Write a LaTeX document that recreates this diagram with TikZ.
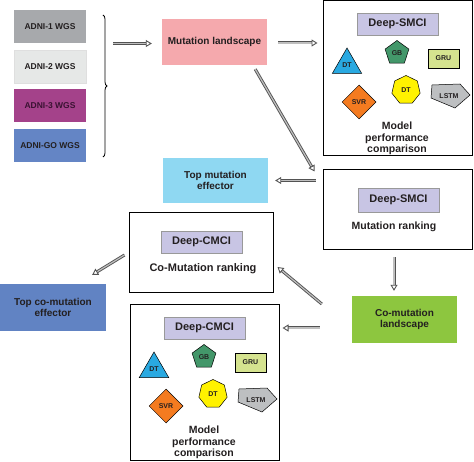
\documentclass[tikz,border=0pt]{standalone}
\usepackage{fontspec}
\setmainfont{Liberation Sans}
\usetikzlibrary{arrows.meta, shapes.geometric, decorations.pathreplacing}

\definecolor{adnione}{HTML}{A7A9AC}
\definecolor{adnitwo}{HTML}{E6E8E7}
\definecolor{adnithree}{HTML}{A4428A}
\definecolor{adnithreetext}{HTML}{3A1232}
\definecolor{adnigo}{HTML}{6485C5}
\definecolor{landcol}{HTML}{F5A9AD}
\definecolor{tagcol}{HTML}{C8C5E4}
\definecolor{tricol}{HTML}{29A9E1}
\definecolor{gbcol}{HTML}{43976A}
\definecolor{grucol}{HTML}{D5E38F}
\definecolor{svrcol}{HTML}{F47B20}
\definecolor{dtcol}{HTML}{FFF200}
\definecolor{lstmcol}{HTML}{BDBFC1}
\definecolor{topmutcol}{HTML}{8FD8F2}
\definecolor{collandcol}{HTML}{8DC63F}
\definecolor{topcocol}{HTML}{6183C3}
\definecolor{ink}{HTML}{231F20}

\tikzset{
  box/.style={draw=black, line width=1pt, minimum width=149pt},
  tag/.style={fill=tagcol, draw=gray!80, minimum width=81pt, minimum height=22pt, text=ink, font=\fontsize{11}{12}\selectfont\bfseries},
  fillbox/.style={minimum width=105pt, minimum height=46pt, align=center, text=ink, font=\fontsize{10}{11.5}\selectfont\bfseries},
  wgs/.style={minimum width=72pt, minimum height=33pt, text=ink, font=\fontsize{8.5}{10}\selectfont\bfseries},
  model/.style={draw=black, line width=0.5pt, inner sep=0pt, text=ink, font=\fontsize{7}{8}\selectfont\bfseries},
  flow/.style={draw=gray!65!black, double=gray!50, double distance=1.2pt, line width=0.9pt, -{Triangle[open, length=6pt, width=7pt]}}
}

\begin{document}
\begin{tikzpicture}[x=1pt, y=-1pt]
\useasboundingbox (0,0) rectangle (474,462);

\node[wgs, fill=adnione] (adni1) at (50,26.5) {ADNI-1 WGS};
\node[wgs, fill=adnitwo, draw=gray!25] (adni2) at (50,66.5) {ADNI-2 WGS};
\node[wgs, fill=adnithree, text=adnithreetext] (adni3) at (50,105.5) {ADNI-3 WGS};
\node[wgs, fill=adnigo] (adnigo) at (50,145.5) {ADNI-GO WGS};
\draw[decorate, decoration={brace, amplitude=4pt}, line width=0.8pt] (103,15) -- (103,157);
\coordinate (bt) at (113,43.5);

\node[fillbox, fill=landcol] (land) at (214.5,42) {Mutation landscape};

\foreach \bx/\dx/\dy/\lab in {s/0/0/Deep-SMCI, c/-193/304/Deep-CMCI}{
  \begin{scope}[shift={(\dx,\dy)}]
    \node[box, minimum height=155pt] (\bx box) at (397.5,78.5) {};
    \node[tag] (\bx tag) at (397.5,24) {\lab};
    \node[model, regular polygon, regular polygon sides=3, minimum size=34pt, fill=tricol] (\bx tri) at (347,65) {DT};
    \node[model, regular polygon, regular polygon sides=5, minimum size=25pt, fill=gbcol] (\bx gb) at (397,53) {GB};
    \node[model, minimum width=31pt, minimum height=19pt, fill=grucol] (\bx gru) at (443.5,58.5) {GRU};
    \node[model, diamond, minimum size=34pt, fill=svrcol] (\bx svr) at (359,102) {SVR};
    \node[model, regular polygon, regular polygon sides=7, minimum size=29pt, fill=dtcol] (\bx dt) at (406,90) {DT};
    \draw[model, fill=lstmcol] (432,85) -- (460,84) -- (470,95) -- (455,108) -- (431,98) -- cycle;
    \node[model, draw=none] (\bx lstm) at (449,96) {LSTM};
    \node[align=center, text=ink, font=\fontsize{10.5}{11.5}\selectfont\bfseries] (\bx mtext) at (397,138.5) {Model\\performance\\comparison};
  \end{scope}
}

\node[box, minimum height=80pt] (rank) at (397.5,210) {};
\node[tag, minimum height=24pt] (ranktag) at (398.5,200) {Deep-SMCI};
\node[text=ink, font=\fontsize{10.5}{12}\selectfont\bfseries] (ranktext) at (394,227) {Mutation ranking};

\node[fillbox, fill=topmutcol, minimum height=45pt] (topmut) at (215.5,180.5) {Top mutation\\effector};
\node[fillbox, fill=collandcol, minimum height=47pt] (colland) at (404.5,319.5) {Co-mutation\\landscape};

\node[box, minimum width=144pt, minimum height=80pt] (corank) at (201,253) {};
\node[tag] (coranktag) at (201.5,242) {Deep-CMCI};
\node[text=ink, font=\fontsize{11}{12}\selectfont\bfseries] (coranktext) at (203,269) {Co-Mutation ranking};

\node[fillbox, fill=topcocol, minimum width=106pt, minimum height=47pt] (topco) at (53,307.5) {Top co-mutation\\effector};

\coordinate (cl) at ([yshift=-8.5pt]colland.west);
\draw[flow, shorten >=10pt] (bt) -- (land.west |- bt);
\draw[flow, shorten <=11pt, shorten >=5pt] ([yshift=-1pt]land.east) -- ([yshift=-1pt]land.east -| sbox.west);
\draw[flow] ([xshift=-12pt,yshift=-4pt]land.south east) -- ([xshift=-8pt,yshift=-2pt]rank.north west);
\draw[flow, shorten <=7pt, shorten >=7pt] (rank.west |- topmut.east) -- (topmut.east);
\draw[flow, shorten <=7pt, shorten >=5pt] ([xshift=-3.5pt]rank.south) -- ([xshift=-3.5pt]rank.south |- colland.north);
\draw[flow] ([xshift=-30pt,yshift=15.5pt]colland.west) -- ([xshift=4pt,yshift=-14pt]corank.east);
\draw[flow, shorten <=32pt, shorten >=3pt] (cl) -- (cl -| cbox.east);
\draw[flow] ([xshift=-4pt,yshift=-2pt]corank.west) -- ([xshift=-14pt,yshift=9pt]topco.north east);
\end{tikzpicture}
\end{document}
